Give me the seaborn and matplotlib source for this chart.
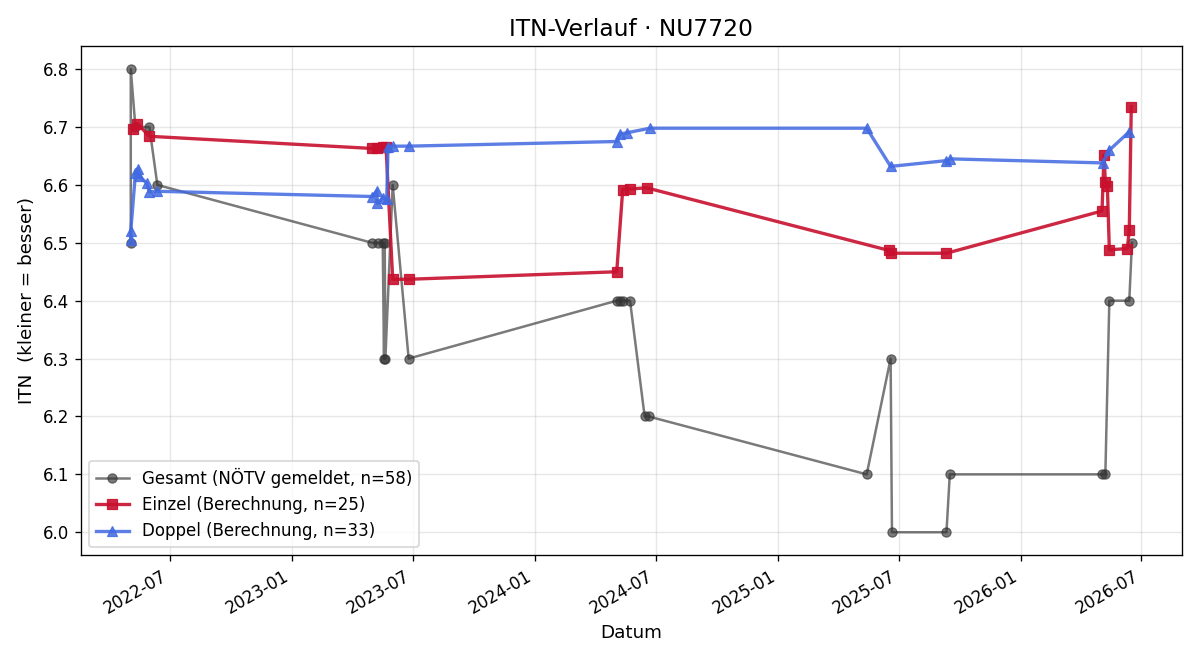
import pandas as pd
import numpy as np
import seaborn as sns
import matplotlib
matplotlib.use('Agg')
import matplotlib.pyplot as plt
import matplotlib.dates as mdates

# --- data ---
gesamt_dates = ['2022-05-03', '2022-05-03', '2022-05-10', '2022-05-31', '2022-06-12',
                '2023-05-01', '2023-05-10', '2023-05-17', '2023-05-19', '2023-05-20',
                '2023-05-21', '2023-06-01', '2023-06-25',
                '2024-05-03', '2024-05-08', '2024-05-12', '2024-05-23', '2024-06-14', '2024-06-20',
                '2025-05-14', '2025-06-19', '2025-06-21', '2025-09-11', '2025-09-16',
                '2026-05-03', '2026-05-08', '2026-05-14', '2026-06-13', '2026-06-17']
gesamt_itn = [6.5, 6.8, 6.7, 6.7, 6.6,
              6.5, 6.5, 6.5, 6.3, 6.5,
              6.3, 6.6, 6.3,
              6.4, 6.4, 6.4, 6.4, 6.2, 6.2,
              6.1, 6.3, 6.0, 6.0, 6.1,
              6.1, 6.1, 6.4, 6.4, 6.5]

einzel_dates = ['2022-05-07', '2022-05-13', '2022-05-31',
                '2023-05-01', '2023-05-08', '2023-05-17', '2023-05-22', '2023-06-01', '2023-06-25',
                '2024-05-03', '2024-05-12', '2024-05-23', '2024-06-17',
                '2025-06-16', '2025-06-20', '2025-09-11',
                '2026-05-03', '2026-05-06', '2026-05-08', '2026-05-11', '2026-05-14',
                '2026-06-10', '2026-06-13', '2026-06-16']
einzel_itn = [6.697, 6.706, 6.684,
              6.663, 6.664, 6.665, 6.666, 6.437, 6.437,
              6.450, 6.592, 6.593, 6.595,
              6.487, 6.482, 6.482,
              6.555, 6.652, 6.605, 6.598, 6.488,
              6.490, 6.522, 6.735]

doppel_dates = ['2022-05-03', '2022-05-03', '2022-05-10', '2022-05-14', '2022-05-16',
                '2022-05-27', '2022-05-31', '2022-06-12',
                '2023-05-01', '2023-05-08', '2023-05-09', '2023-05-17', '2023-05-23',
                '2023-05-25', '2023-06-01', '2023-06-25',
                '2024-05-03', '2024-05-08', '2024-05-18', '2024-06-22',
                '2025-05-14', '2025-06-19', '2025-09-11', '2025-09-17',
                '2026-05-04', '2026-05-14', '2026-06-13']
doppel_itn = [6.505, 6.520, 6.620, 6.628, 6.615,
              6.603, 6.588, 6.589,
              6.580, 6.590, 6.568, 6.578, 6.575,
              6.665, 6.667, 6.667,
              6.675, 6.688, 6.690, 6.698,
              6.698, 6.632, 6.642, 6.645,
              6.638, 6.660, 6.692]

gesamt = pd.DataFrame({'datum': pd.to_datetime(gesamt_dates), 'itn': gesamt_itn})
einzel = pd.DataFrame({'datum': pd.to_datetime(einzel_dates), 'itn': einzel_itn})
doppel = pd.DataFrame({'datum': pd.to_datetime(doppel_dates), 'itn': doppel_itn})

fig, ax = plt.subplots(figsize=(10, 5.5), dpi=120)

sns.lineplot(data=gesamt, x='datum', y='itn', sort=False, estimator=None, ax=ax,
             color='#333333', alpha=0.65, linewidth=1.5, marker='o', markersize=5.5,
             markeredgecolor='#333333', label='Gesamt (NÖTV gemeldet, n=58)')
sns.lineplot(data=einzel, x='datum', y='itn', sort=False, estimator=None, ax=ax,
             color='#C8102E', alpha=0.9, linewidth=2, marker='s', markersize=6.5,
             markeredgecolor='#C8102E', label='Einzel (Berechnung, n=25)')
sns.lineplot(data=doppel, x='datum', y='itn', sort=False, estimator=None, ax=ax,
             color='#4169E1', alpha=0.85, linewidth=2, marker='^', markersize=6.5,
             markeredgecolor='#4169E1', label='Doppel (Berechnung, n=33)')

ax.set_title('ITN-Verlauf · NU7720', fontsize=14)
ax.set_xlabel('Datum', fontsize=11)
ax.set_ylabel('ITN  (kleiner = besser)', fontsize=11)
ax.grid(True, alpha=0.3)
ax.xaxis.set_major_locator(mdates.MonthLocator(bymonth=[1, 7]))
ax.xaxis.set_major_formatter(mdates.DateFormatter('%Y-%m'))
ax.legend(loc='lower left', fontsize=10)
fig.autofmt_xdate()

plt.tight_layout()
plt.savefig('out.png')
